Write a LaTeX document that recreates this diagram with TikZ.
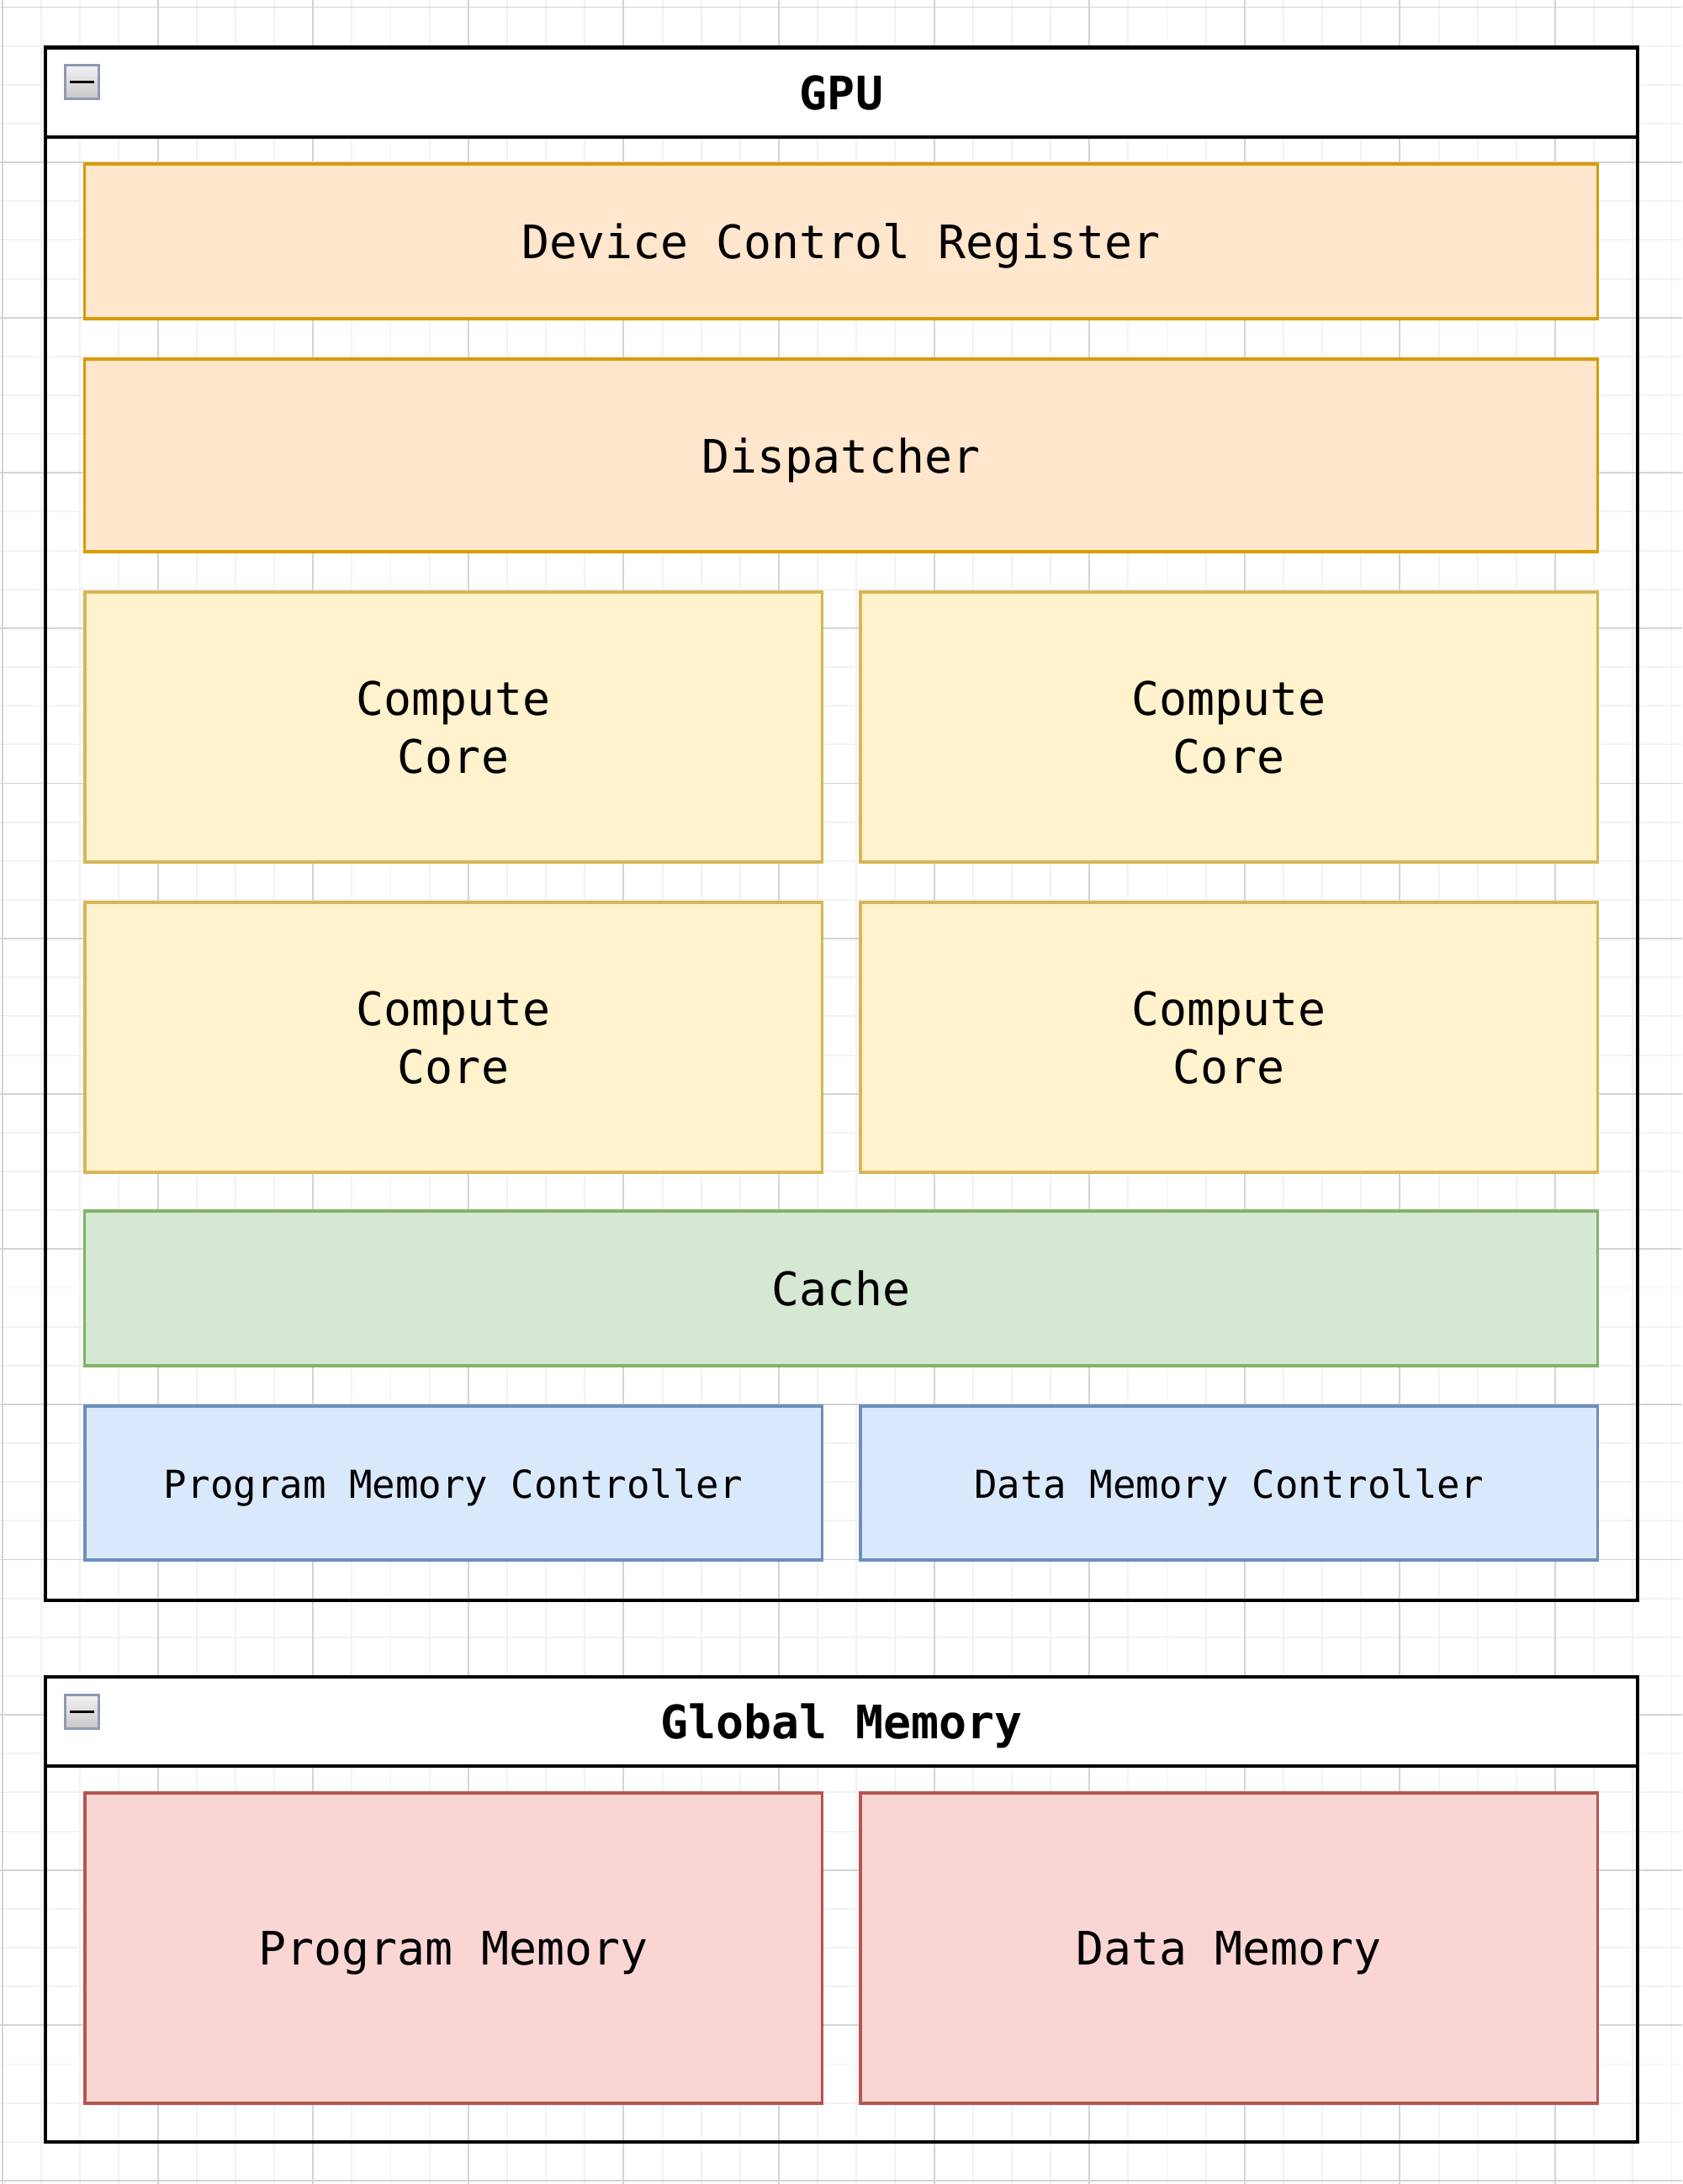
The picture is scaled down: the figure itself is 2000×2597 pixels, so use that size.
\documentclass[tikz,border=0pt]{standalone}
\usepackage{fontspec}
\newfontfamily\gpumono{DejaVu Sans Mono}
\definecolor{ctrlfill}{HTML}{FFE6CC}
\definecolor{ctrldraw}{HTML}{D79B00}
\definecolor{corefill}{HTML}{FFF2CC}
\definecolor{coredraw}{HTML}{D6B656}
\definecolor{cachefill}{HTML}{D5E8D4}
\definecolor{cachedraw}{HTML}{82B366}
\definecolor{mcfill}{HTML}{DAE8FC}
\definecolor{mcdraw}{HTML}{6C8EBF}
\definecolor{memfill}{HTML}{F9D6D3}
\definecolor{memdraw}{HTML}{B85450}
\definecolor{gridminor}{HTML}{F2F2F2}
\definecolor{gridmajor}{HTML}{D4D4D4}
\definecolor{iconborder}{HTML}{8C9BB0}
\tikzset{
  box/.style={draw, line width=1pt, inner sep=0pt, align=center, text depth=0pt,
    font=\gpumono\fontsize{15.6pt}{19.7pt}\selectfont},
  widebox/.style={box, minimum width=17.98cm},
  halfbox/.style={box, minimum width=8.76cm},
  frame/.style={draw=black, line width=1.15pt, minimum width=18.91cm, inner sep=0pt},
  header/.style={frame, fill=white, minimum height=1.06cm, text depth=0pt,
    font=\gpumono\bfseries\fontsize{15.6pt}{19.7pt}\selectfont},
  collapse/.style={draw=iconborder, line width=0.9pt, minimum size=0.4cm, inner sep=0pt,
    top color=white!95!black, bottom color=white!78!black},
}
\begin{document}
\begin{tikzpicture}[x=0.01cm,y=-0.01cm]
  \useasboundingbox (0,0) rectangle (2000,2597);
  \fill[white] (0,0) rectangle (2000,2597);

  % grid in the background
  \foreach \i in {0,...,43}
    \draw[gridminor,line width=0.55pt] ({3+46.15*\i},0) -- ({3+46.15*\i},2597);
  \foreach \j in {0,...,56}
    \draw[gridminor,line width=0.55pt] (0,{8.5+46.15*\j}) -- (2000,{8.5+46.15*\j});
  \foreach \i in {0,...,10}
    \draw[gridmajor,line width=0.55pt] ({3+184.6*\i},0) -- ({3+184.6*\i},2597);
  \foreach \j in {0,...,14}
    \draw[gridmajor,line width=0.55pt] (0,{8.5+184.6*\j}) -- (2000,{8.5+184.6*\j});

  % GPU container
  \node[frame, minimum height=18.45cm] (gpu) at (1000.5,979.5) {};
  \node[header] (gpuhead) at (1000.5,110) {GPU};
  \node[collapse] (gpuicon) at (97.5,97.5) {};
  \draw[line width=1pt] ([xshift=-0.145cm]gpuicon.center) -- ([xshift=0.145cm]gpuicon.center);

  \node[widebox, fill=ctrlfill, draw=ctrldraw, minimum height=1.84cm] (dcr) at (1000,287) {Device Control Register};
  \node[widebox, fill=ctrlfill, draw=ctrldraw, minimum height=2.29cm] (disp) at (1000,541.5) {Dispatcher};

  % compute cores, 2 x 2
  \node[halfbox, fill=corefill, draw=coredraw, minimum height=3.21cm] (core1) at (539,864.5) {Compute\\Core};
  \node[halfbox, fill=corefill, draw=coredraw, minimum height=3.21cm] (core2) at (1461,864.5) {Compute\\Core};
  \node[halfbox, fill=corefill, draw=coredraw, minimum height=3.21cm] (core3) at (539,1233.5) {Compute\\Core};
  \node[halfbox, fill=corefill, draw=coredraw, minimum height=3.21cm] (core4) at (1461,1233.5) {Compute\\Core};

  \node[widebox, fill=cachefill, draw=cachedraw, minimum height=1.84cm] (cache) at (1000,1532) {Cache};

  \node[halfbox, fill=mcfill, draw=mcdraw, minimum height=1.83cm,
    font=\gpumono\fontsize{13pt}{16pt}\selectfont] (pmc) at (539,1763.5) {Program Memory Controller};
  \node[halfbox, fill=mcfill, draw=mcdraw, minimum height=1.83cm,
    font=\gpumono\fontsize{13pt}{16pt}\selectfont] (dmc) at (1461,1763.5) {Data Memory Controller};

  % global memory container
  \node[frame, minimum height=5.52cm] (gmem) at (1000.5,2271) {};
  \node[header] (gmemhead) at (1000.5,2047) {Global Memory};
  \node[collapse] (gmemicon) at (97.5,2035.5) {};
  \draw[line width=1pt] ([xshift=-0.145cm]gmemicon.center) -- ([xshift=0.145cm]gmemicon.center);

  \node[halfbox, fill=memfill, draw=memdraw, minimum height=3.69cm] (pmem) at (539,2316.5) {Program Memory};
  \node[halfbox, fill=memfill, draw=memdraw, minimum height=3.69cm] (dmem) at (1461,2316.5) {Data Memory};
\end{tikzpicture}
\end{document}
